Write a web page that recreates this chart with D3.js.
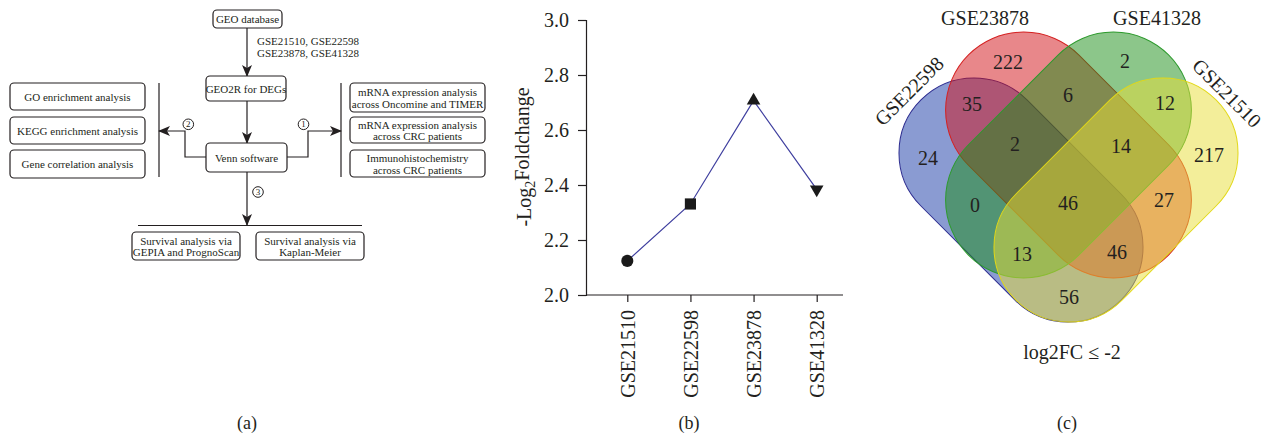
<!DOCTYPE html>
<html>
<head>
<script src="https://cdn.jsdelivr.net/npm/d3@7"></script>
<style>
  html, body { margin: 0; padding: 0; background: #fff; }
</style>
</head>
<body>
<div id="fig"></div>
<script>
// ---- data ----
var datasets = ["GSE21510", "GSE22598", "GSE23878", "GSE41328"];
var foldChange = [2.124, 2.331, 2.707, 2.384];
var yTicks = [2.0, 2.2, 2.4, 2.6, 2.8, 3.0];
var markerShapes = ["circle", "square", "triangle", "down"];

// venn regions: B = GSE22598, R = GSE23878, G = GSE41328, Y = GSE21510
var vennRegions = ["R", "G", "BR", "RG", "GY", "B", "BRG", "RGY", "Y", "BG", "BRGY", "RY", "BGY", "BRY", "BY"];
var vennCounts  = [222, 2, 35, 6, 12, 24, 2, 14, 217, 0, 46, 27, 13, 46, 56];
var vennTitle = "log2FC \u2264 -2";

// flowchart labels
var flowMain = ["GEO database", "GEO2R for DEGs", "Venn software"];
var flowLeft = ["GO enrichment analysis", "KEGG enrichment analysis", "Gene correlation analysis"];
var flowRight = [["mRNA expression analysis", "across Oncomine and TIMER"],
                 ["mRNA expression analysis", "across CRC patients"],
                 ["Immunohistochemistry", "across CRC patients"]];
var flowBottom = [["Survival analysis via", "GEPIA and PrognoScan"],
                  ["Survival analysis via", "Kaplan-Meier"]];
var panelLabels = ["(a)", "(b)", "(c)"];

var FONT = "'Liberation Serif', 'Times New Roman', serif";
var ink = "#231f20";

var svg = d3.select("#fig").append("svg")
  .attr("width", 1266).attr("height", 438)
  .style("background", "#fff");

// ---- panel labels ----
svg.selectAll("text.panel").data(panelLabels).enter().append("text")
  .attr("class", "panel")
  .attr("x", function(d, i) { return [247, 689, 1067][i]; })
  .attr("y", 429)
  .attr("text-anchor", "middle")
  .style("font-size", "18px")
  .text(function(d) { return d; });

// ================= (a) flowchart =================
var fa = svg.append("g");

fa.append("defs").append("marker")
  .attr("id", "arr").attr("viewBox", "0 0 12 10")
  .attr("refX", 11).attr("refY", 5)
  .attr("markerWidth", 12).attr("markerHeight", 10)
  .attr("markerUnits", "userSpaceOnUse")
  .attr("orient", "auto")
  .append("path").attr("d", "M0,0 L12,5 L0,10 L3,5 Z").attr("fill", ink);

function box(x, y, w, h, lines) {
  fa.append("rect").attr("x", x).attr("y", y).attr("width", w).attr("height", h)
    .attr("rx", 4).attr("fill", "#fff").attr("stroke", ink).attr("stroke-width", 1.2);
  var n = lines.length;
  lines.forEach(function(t, i) {
    fa.append("text").attr("x", x + w / 2)
      .attr("y", y + h / 2 + (i - (n - 1) / 2) * 11.5 + 0.5)
      .attr("dy", "0.35em").attr("text-anchor", "middle")
      .style("font-size", "11px").text(t);
  });
}
function line(pts, arrow) {
  fa.append("path").attr("d", d3.line()(pts))
    .attr("fill", "none").attr("stroke", ink).attr("stroke-width", 1.2)
    .attr("marker-end", arrow ? "url(#arr)" : null);
}
function num(x, y, t) {
  fa.append("circle").attr("cx", x).attr("cy", y).attr("r", 5.3)
    .attr("fill", "#fff").attr("stroke", ink).attr("stroke-width", 1);
  fa.append("text").attr("x", x).attr("y", y).attr("dy", "0.35em")
    .attr("text-anchor", "middle").style("font-size", "9px").text(t);
}

line([[247, 28], [247, 76]], true);
line([[247, 101], [247, 143]], true);
line([[247, 172], [247, 225]], true);
line([[287, 157], [308, 157], [308, 131], [341, 131]], true);
line([[206, 157], [185, 157], [185, 131], [159, 131]], true);
line([[341, 83], [341, 177]]);
line([[159, 83], [159, 177]]);
line([[138, 225.5], [362, 225.5]]);

box(213, 10, 69, 18, [flowMain[0]]);
box(206, 76, 80, 25, [flowMain[1]]);
box(206, 143, 81, 29, [flowMain[2]]);
[[83, 27], [117, 27], [150, 28]].forEach(function(p, i) { box(10, p[0], 135, p[1], [flowLeft[i]]); });
[[83, 29], [117, 26], [150, 27]].forEach(function(p, i) { box(350, p[0], 135, p[1], flowRight[i]); });
box(132, 232, 108, 28, flowBottom[0]);
box(256, 232, 108, 28, flowBottom[1]);

fa.append("text").attr("x", 257).attr("y", 45).style("font-size", "11px").text("GSE21510, GSE22598");
fa.append("text").attr("x", 257).attr("y", 57).style("font-size", "11px").text("GSE23878, GSE41328");

num(303.5, 124.3, "1");
num(188.3, 124.3, "2");
num(258, 192, "3");

// ================= (b) line chart =================
var gb = svg.append("g");
var x = d3.scalePoint().domain(datasets).range([627.3, 816.7]);
var y = d3.scaleLinear().domain([2, 3]).range([295, 20]);

var yAxis = gb.append("g").attr("transform", "translate(586,0)")
  .call(d3.axisLeft(y).tickValues(yTicks).tickSize(8).tickPadding(9).tickFormat(d3.format(".1f")));
var xAxis = gb.append("g").attr("transform", "translate(0,295)")
  .call(d3.axisBottom(x).tickSize(7).tickPadding(0));
xAxis.select(".domain").attr("d", "M586,0H843");
[yAxis, xAxis].forEach(function(a) {
  a.attr("font-family", null).attr("font-size", null);
  a.selectAll("path, line").attr("stroke", ink).attr("stroke-width", 1.2);
  a.selectAll("text").style("font-size", "20px");
});
xAxis.selectAll(".tick text")
  .attr("text-anchor", "end")
  .attr("transform", "translate(0,15) rotate(-90)")
  .attr("x", 0).attr("y", 0).attr("dy", "0.35em");

var yt = gb.append("text")
  .attr("transform", "translate(531,157) rotate(-90)")
  .attr("text-anchor", "middle").style("font-size", "20px");
yt.append("tspan").text("-Log");
yt.append("tspan").attr("dy", "0.3em").style("font-size", "14px").text("2");
yt.append("tspan").attr("dy", "-0.3em").text("Foldchange");

var pts = datasets.map(function(d, i) { return [x(d), y(foldChange[i])]; });
gb.append("path").attr("d", d3.line()(pts))
  .attr("fill", "none").attr("stroke", "#3f3f9f").attr("stroke-width", 1.2);

var symMap = {
  circle: [d3.symbolCircle, 115, 0],
  square: [d3.symbolSquare, 125, 0],
  triangle: [d3.symbolTriangle, 80, 0],
  down: [d3.symbolTriangle, 80, 180]
};
gb.selectAll("path.mk").data(datasets).enter().append("path")
  .attr("class", "mk")
  .attr("d", function(d, i) { var s = symMap[markerShapes[i]]; return d3.symbol().type(s[0]).size(s[1])(); })
  .attr("transform", function(d, i) {
    return "translate(" + x(d) + "," + y(foldChange[i]) + ") rotate(" + symMap[markerShapes[i]][2] + ")";
  })
  .attr("fill", "#1a1a1a");

// ================= (c) venn =================
var gc = svg.append("g");
var cx = 1068.5;
var sets = [
  { key: "B", name: "GSE22598", fill: "rgb(21,55,165)",  stroke: "#2b2b8f", c: [cx - 47.5, 200], ang: 45,  len: 283, w: 150 },
  { key: "R", name: "GSE23878", fill: "rgb(209,15,21)",  stroke: "#d42020", c: [cx, 155],        ang: 45,  len: 283, w: 156 },
  { key: "G", name: "GSE41328", fill: "rgb(25,141,21)",  stroke: "#2d9a2d", c: [cx, 155],        ang: -45, len: 283, w: 156 },
  { key: "Y", name: "GSE21510", fill: "rgb(231,221,53)", stroke: "#e2d818", c: [cx + 47.5, 200], ang: -45, len: 283, w: 150 }
];
gc.selectAll("rect.set").data(sets).enter().append("rect")
  .attr("class", "set")
  .attr("x", function(d) { return -d.len / 2; })
  .attr("y", function(d) { return -d.w / 2; })
  .attr("width", function(d) { return d.len; })
  .attr("height", function(d) { return d.w; })
  .attr("rx", function(d) { return d.w / 2; })
  .attr("transform", function(d) { return "translate(" + d.c[0] + "," + d.c[1] + ") rotate(" + d.ang + ")"; })
  .attr("fill", function(d) { return d.fill; })
  .attr("fill-opacity", 0.5)
  .attr("stroke", function(d) { return d.stroke; })
  .attr("stroke-width", 1);

// region label anchor points
var regionPos = {
  R: [1008, 62], G: [1125, 61], BR: [972, 104], RG: [1068, 95], GY: [1165, 103],
  B: [928, 158], BRG: [1015, 144], RGY: [1121, 146], Y: [1209, 155], BG: [975, 205],
  BRGY: [1068, 203], RY: [1164, 200], BGY: [1022, 254], BRY: [1117, 252], BY: [1069, 297]
};
gc.selectAll("text.cnt").data(vennRegions).enter().append("text")
  .attr("class", "cnt")
  .attr("x", function(d) { return regionPos[d][0]; })
  .attr("y", function(d) { return regionPos[d][1]; })
  .attr("dy", "0.35em").attr("text-anchor", "middle")
  .style("font-size", "20px")
  .text(function(d, i) { return vennCounts[i]; });

var setLabelPos = { B: [909, 91, -45], R: [985, 18, 0], G: [1157, 18, 0], Y: [1227, 93, 45] };
gc.selectAll("text.setname").data(sets).enter().append("text")
  .attr("class", "setname")
  .attr("transform", function(d) { var p = setLabelPos[d.key]; return "translate(" + p[0] + "," + p[1] + ") rotate(" + p[2] + ")"; })
  .attr("dy", "0.35em").attr("text-anchor", "middle")
  .style("font-size", "20px")
  .text(function(d) { return d.name; });

gc.append("text").attr("x", 1072).attr("y", 352).attr("dy", "0.35em")
  .attr("text-anchor", "middle").style("font-size", "20px").text(vennTitle);

// one font / colour for every text
svg.selectAll("text").style("font-family", FONT).attr("fill", ink);
</script>
</body>
</html>
